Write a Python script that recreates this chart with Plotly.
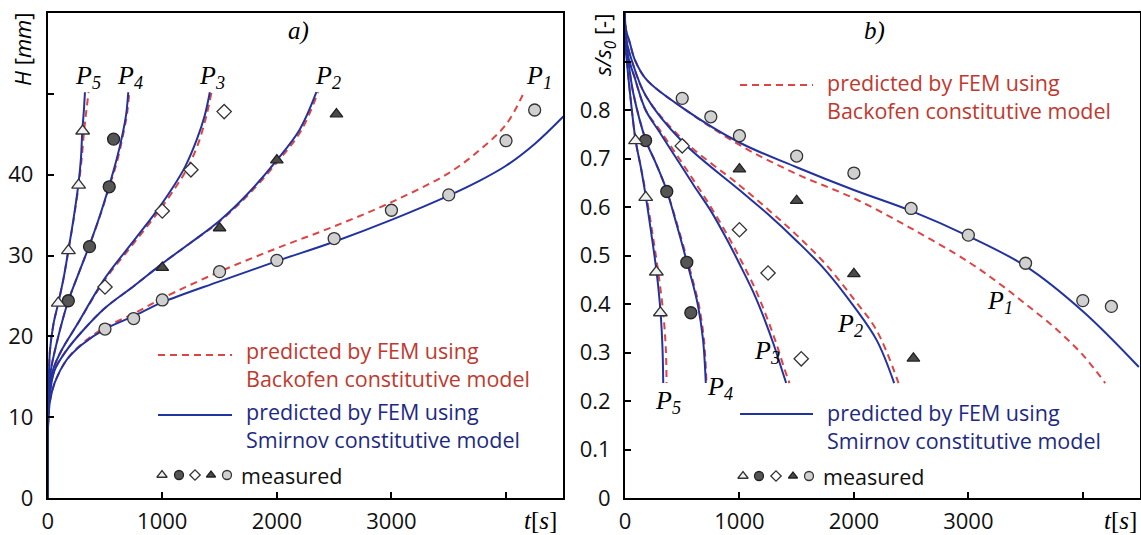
import plotly.graph_objects as go

# ---------------- DATA ----------------
# Panel a) : H [mm] vs t [s]
aP1_smir_t = [0, 0, 5, 20, 60, 166, 300, 500, 750, 1000, 1500, 2000, 2500, 3000, 3500, 3750, 4000, 4250, 4500]
aP1_smir_H = [0, 6, 9.5, 12, 14.2, 17.1, 19.0, 20.9, 22.5, 24.2, 26.8, 29.3, 31.7, 34.4, 37.4, 39.1, 41.1, 43.8, 47.2]
aP1_back_t = [0, 0, 5, 20, 60, 166, 300, 500, 750, 1000, 1500, 2000, 2500, 3000, 3500, 3765, 4000, 4160]
aP1_back_H = [0, 6, 9.5, 12, 14.2, 17.1, 19.1, 21.1, 22.8, 24.7, 28.0, 30.9, 33.6, 36.6, 40.2, 43.0, 46.2, 50.3]

aP2_smir_t = [0, 0, 5, 20, 60, 166, 300, 500, 750, 1000, 1250, 1500, 1750, 2000, 2200, 2345]
aP2_smir_H = [0, 6, 10, 13, 15.8, 18.3, 20.6, 23.5, 26.2, 29.0, 31.6, 34.3, 37.7, 41.8, 45.6, 50.2]
aP2_back_t = [0, 0, 5, 20, 60, 166, 300, 500, 750, 1000, 1250, 1500, 1750, 2000, 2210, 2360]
aP2_back_H = [0, 6, 10, 13, 15.8, 18.3, 20.6, 23.5, 26.2, 29.0, 31.6, 34.2, 37.5, 41.5, 45.4, 50.2]

aP3_smir_t = [0, 0, 4, 15, 50, 122, 250, 500, 750, 950, 1100, 1200, 1300, 1370, 1415]
aP3_smir_H = [0, 6, 10, 13.5, 16, 18.3, 21.3, 27.2, 31.8, 35.5, 38.6, 41.0, 44.3, 47.3, 50.2]
aP3_back_t = [0, 0, 4, 15, 50, 122, 250, 500, 750, 960, 1110, 1215, 1315, 1385, 1430]
aP3_back_H = [0, 6, 10, 13.5, 16, 18.3, 21.3, 27.0, 31.5, 35.3, 38.3, 40.7, 43.9, 47.3, 50.2]

aP4_smir_t = [0, 0, 3, 10, 30, 64, 120, 180, 270, 360, 450, 534, 600, 650, 685, 703]
aP4_smir_H = [0, 6, 10, 13, 16, 18.3, 21.5, 24.4, 27.8, 31.1, 34.7, 38.5, 41.8, 44.8, 47.5, 50.2]
aP4_back_t = [0, 0, 3, 10, 30, 64, 120, 180, 270, 360, 452, 538, 605, 656, 692, 712]
aP4_back_H = [0, 6, 10, 13, 16, 18.3, 21.5, 24.4, 27.8, 31.1, 34.7, 38.5, 41.6, 44.8, 47.5, 50.2]

aP5_smir_t = [0, 0, 2, 6, 12, 20, 50, 92, 140, 180, 225, 267, 290, 302, 315, 325]
aP5_smir_H = [0, 6, 10, 13.5, 16, 18.3, 21.5, 24.1, 27.3, 30.6, 34.5, 38.7, 42.0, 45.4, 47.8, 50.2]
aP5_back_t = [0, 0, 2, 6, 12, 20, 50, 92, 140, 180, 228, 272, 298, 318, 338, 357]
aP5_back_H = [0, 6, 10, 13.5, 16, 18.3, 21.5, 24.1, 27.3, 30.6, 34.6, 38.9, 42.2, 45.5, 48.0, 50.2]

# measured, panel a)
aP1_meas_t = [500, 750, 1000, 1500, 2000, 2500, 3000, 3500, 4000, 4250]
aP1_meas_H = [20.9, 22.2, 24.5, 28.0, 29.4, 32.1, 35.6, 37.5, 44.2, 48.0]
aP2_meas_t = [1000, 1500, 2000, 2520]
aP2_meas_H = [28.5, 33.4, 41.8, 47.5]
aP3_meas_t = [500, 1000, 1250, 1540]
aP3_meas_H = [26.1, 35.5, 40.6, 47.8]
aP4_meas_t = [180, 365, 537, 575]
aP4_meas_H = [24.4, 31.1, 38.5, 44.4]
aP5_meas_t = [92, 181, 270, 305]
aP5_meas_H = [24.1, 30.6, 38.7, 45.4]

# Panel b) : s/s0 vs t [s]
bP1_smir_t = [0, 5, 44, 87, 190, 500, 1000, 1500, 2000, 2500, 3000, 3500, 4000, 4490]
bP1_smir_s = [1.0, 0.97, 0.937, 0.903, 0.862, 0.805, 0.733, 0.682, 0.635, 0.592, 0.540, 0.478, 0.385, 0.27]
bP1_back_t = [0, 5, 44, 87, 190, 500, 1000, 1500, 2000, 2500, 3000, 3266, 3500, 3760, 4000, 4196]
bP1_back_s = [1.0, 0.97, 0.937, 0.903, 0.862, 0.805, 0.728, 0.668, 0.618, 0.556, 0.487, 0.443, 0.40, 0.35, 0.295, 0.237]

bP2_smir_t = [0, 3, 20, 58, 180, 500, 1000, 1250, 1500, 1750, 2000, 2200, 2352]
bP2_smir_s = [1.0, 0.965, 0.935, 0.903, 0.83, 0.735, 0.635, 0.585, 0.53, 0.47, 0.395, 0.325, 0.237]
bP2_back_t = [0, 3, 20, 58, 180, 500, 1000, 1250, 1500, 1750, 2000, 2200, 2390]
bP2_back_s = [1.0, 0.965, 0.935, 0.903, 0.83, 0.74, 0.645, 0.595, 0.542, 0.483, 0.41, 0.345, 0.237]

bP3_smir_t = [0, 2, 12, 35, 80, 180, 300, 450, 600, 750, 886, 1002, 1120, 1220, 1300, 1370, 1408]
bP3_smir_s = [1.0, 0.965, 0.935, 0.903, 0.87, 0.80, 0.755, 0.70, 0.645, 0.592, 0.535, 0.482, 0.425, 0.368, 0.316, 0.265, 0.237]
bP3_back_t = [0, 2, 12, 35, 80, 180, 300, 450, 600, 750, 900, 1020, 1140, 1240, 1320, 1395, 1437]
bP3_back_s = [1.0, 0.965, 0.935, 0.903, 0.87, 0.80, 0.76, 0.708, 0.655, 0.60, 0.54, 0.487, 0.43, 0.372, 0.32, 0.265, 0.237]

bP4_smir_t = [0, 2, 8, 29, 73, 183, 270, 363, 450, 537, 600, 639, 682, 706]
bP4_smir_s = [1.0, 0.96, 0.93, 0.90, 0.834, 0.737, 0.69, 0.635, 0.565, 0.49, 0.435, 0.395, 0.326, 0.237]
bP4_back_t = [0, 2, 8, 29, 73, 183, 270, 363, 455, 545, 608, 648, 690, 712]
bP4_back_s = [1.0, 0.96, 0.93, 0.90, 0.834, 0.737, 0.69, 0.635, 0.565, 0.49, 0.435, 0.395, 0.326, 0.237]

bP5_smir_t = [0, 1, 5, 15, 44, 93, 140, 183, 230, 276, 311, 328, 334]
bP5_smir_s = [1.0, 0.96, 0.93, 0.903, 0.834, 0.737, 0.68, 0.62, 0.545, 0.466, 0.382, 0.306, 0.237]
bP5_back_t = [0, 1, 5, 15, 44, 93, 140, 185, 240, 290, 334, 357, 363]
bP5_back_s = [1.0, 0.96, 0.93, 0.903, 0.834, 0.737, 0.68, 0.625, 0.545, 0.466, 0.382, 0.306, 0.237]

# measured, panel b)
bP1_meas_t = [500, 750, 1000, 1500, 2000, 2500, 3000, 3500, 4000, 4250]
bP1_meas_s = [0.824, 0.786, 0.747, 0.705, 0.670, 0.597, 0.542, 0.484, 0.407, 0.395]
bP2_meas_t = [1000, 1500, 2000, 2520]
bP2_meas_s = [0.678, 0.613, 0.462, 0.288]
bP3_meas_t = [500, 1000, 1250, 1540]
bP3_meas_s = [0.726, 0.553, 0.464, 0.287]
bP4_meas_t = [180, 365, 540, 575]
bP4_meas_s = [0.737, 0.632, 0.486, 0.382]
bP5_meas_t = [92, 181, 274, 309]
bP5_meas_s = [0.737, 0.620, 0.466, 0.382]

x_tickvals = [0, 1000, 2000, 3000, 4000]
x_ticktext = ["0", "1000", "2000", "3000", " "]
a_tickvals = [0, 10, 20, 30, 40, 50]
a_ticktext = ["0", "10", "20", "30", "40", " "]
b_tickvals = [0, 0.1, 0.2, 0.3, 0.4, 0.5, 0.6, 0.7, 0.8, 0.9]
b_ticktext = ["0", "0.1", "0.2", "0.3", "0.4", "0.5", "0.6", "0.7", "0.8", " "]

legend_back = ["predicted by FEM using", "Backofen constitutive model"]
legend_smir = ["predicted by FEM using", "Smirnov constitutive model"]
legend_meas = "measured"

# ---------------- STYLE / GEOMETRY ----------------
W, Hh = 1141, 535
BLUE = "#2233a0"
RED = "#dd4444"
RED_TXT = "#c0392f"
BLUE_TXT = "#1e2a80"
LW = 2

A_X0, A_X1 = 47.7, 563.3
B_X0, B_X1 = 625.0, 1140.0
Y_TOP, Y_BOT = 13.0, 498.0
T_MAX = 4500
A_YMAX = 60
B_YMAX = 1.0

def px_x(p):
    return p / W

def px_y(p):
    return 1 - p / Hh

def a_data(px, py):
    return ((px - A_X0) / (A_X1 - A_X0) * T_MAX, (Y_BOT - py) / (Y_BOT - Y_TOP) * A_YMAX)

def b_data(px, py):
    return ((px - B_X0) / (B_X1 - B_X0) * T_MAX, (Y_BOT - py) / (Y_BOT - Y_TOP) * B_YMAX)

marker_styles = {
    "P1": dict(symbol="circle", size=12, color="#d0d0d0", line=dict(color="#333333", width=1.3)),
    "P2": dict(symbol="triangle-up", size=11, color="#4a4a4a", line=dict(color="#222222", width=1.3)),
    "P3": dict(symbol="diamond", size=11, color="#ffffff", line=dict(color="#333333", width=1.3)),
    "P4": dict(symbol="circle", size=12, color="#555555", line=dict(color="#222222", width=1.3)),
    "P5": dict(symbol="triangle-up", size=12, color="#f2f2f2", line=dict(color="#333333", width=1.3)),
}

fig = go.Figure()

def line(x, y, xa, ya, kind):
    if kind == "smir":
        ln = dict(color=BLUE, width=LW, shape="spline", smoothing=1.0)
    else:
        ln = dict(color=RED, width=LW, dash="7px,5px", shape="spline", smoothing=1.0)
    fig.add_trace(go.Scatter(x=x, y=y, mode="lines", line=ln, xaxis=xa, yaxis=ya,
                             showlegend=False, hoverinfo="skip"))

def meas(x, y, xa, ya, key, size_delta=0):
    st = dict(marker_styles[key])
    st["size"] = st["size"] + size_delta
    fig.add_trace(go.Scatter(x=x, y=y, mode="markers", marker=st, cliponaxis=False,
                             xaxis=xa, yaxis=ya, showlegend=False, hoverinfo="skip"))

for t, h, k in [(aP1_back_t, aP1_back_H, "back"), (aP2_back_t, aP2_back_H, "back"),
                (aP3_back_t, aP3_back_H, "back"), (aP4_back_t, aP4_back_H, "back"),
                (aP5_back_t, aP5_back_H, "back"),
                (aP1_smir_t, aP1_smir_H, "smir"), (aP2_smir_t, aP2_smir_H, "smir"),
                (aP3_smir_t, aP3_smir_H, "smir"), (aP4_smir_t, aP4_smir_H, "smir"),
                (aP5_smir_t, aP5_smir_H, "smir")]:
    line(t, h, "x", "y", k)
for t, h, key in [(aP1_meas_t, aP1_meas_H, "P1"), (aP2_meas_t, aP2_meas_H, "P2"),
                  (aP3_meas_t, aP3_meas_H, "P3"), (aP4_meas_t, aP4_meas_H, "P4"),
                  (aP5_meas_t, aP5_meas_H, "P5")]:
    meas(t, h, "x", "y", key)

for t, s, k in [(bP1_back_t, bP1_back_s, "back"), (bP2_back_t, bP2_back_s, "back"),
                (bP3_back_t, bP3_back_s, "back"), (bP4_back_t, bP4_back_s, "back"),
                (bP5_back_t, bP5_back_s, "back"),
                (bP1_smir_t, bP1_smir_s, "smir"), (bP2_smir_t, bP2_smir_s, "smir"),
                (bP3_smir_t, bP3_smir_s, "smir"), (bP4_smir_t, bP4_smir_s, "smir"),
                (bP5_smir_t, bP5_smir_s, "smir")]:
    line(t, s, "x2", "y2", k)
for t, s, key in [(bP1_meas_t, bP1_meas_s, "P1"), (bP2_meas_t, bP2_meas_s, "P2"),
                  (bP3_meas_t, bP3_meas_s, "P3"), (bP4_meas_t, bP4_meas_s, "P4"),
                  (bP5_meas_t, bP5_meas_s, "P5")]:
    meas(t, s, "x2", "y2", key)

# legend marker rows ("measured")
leg_keys = ["P5", "P4", "P3", "P2", "P1"]
for xs, yrow, conv, xa, ya in [([162, 179, 195, 211, 227], 475, a_data, "x", "y"),
                               ([743, 759, 776, 793, 809], 476, b_data, "x2", "y2")]:
    for xx, key in zip(xs, leg_keys):
        dx, dy = conv(xx, yrow)
        meas([dx], [dy], xa, ya, key, size_delta=-3)

# ---------------- LAYOUT ----------------
ydom = [px_y(Y_BOT), px_y(Y_TOP)]
axis_common = dict(showline=True, linecolor="black", linewidth=2, mirror=True,
                   ticks="inside", ticklen=6, tickwidth=1.5, tickcolor="black",
                   showgrid=False, zeroline=False, automargin=False,
                   tickfont=dict(family="Open Sans", size=22, color="#111111"))

fig.update_layout(
    width=W, height=Hh,
    margin=dict(l=0, r=0, t=0, b=0),
    paper_bgcolor="white", plot_bgcolor="white",
    xaxis=dict(domain=[px_x(A_X0), px_x(A_X1)], range=[0, T_MAX], anchor="y",
               tickvals=x_tickvals, ticktext=x_ticktext, ticklabelstandoff=3, **axis_common),
    yaxis=dict(domain=ydom, range=[0, A_YMAX], anchor="x",
               tickvals=a_tickvals, ticktext=a_ticktext, ticklabelstandoff=8, **axis_common),
    xaxis2=dict(domain=[px_x(B_X0), px_x(B_X1)], range=[0, T_MAX], anchor="y2",
                tickvals=x_tickvals, ticktext=x_ticktext, ticklabelstandoff=3, **axis_common),
    yaxis2=dict(domain=ydom, range=[0, B_YMAX], anchor="x2",
                tickvals=b_tickvals, ticktext=b_ticktext, ticklabelstandoff=8, **axis_common),
    showlegend=False,
)

ann = []
def text(x, y, t, size, color="black", family="Open Sans", xanchor="center", angle=0):
    ann.append(dict(x=px_x(x), y=px_y(y), xref="paper", yref="paper", text=t, showarrow=False,
                    xanchor=xanchor, yanchor="middle", textangle=angle, borderpad=0,
                    align="left", font=dict(family=family, size=size, color=color)))

SERIF = "Liberation Serif"
LEG = 21.5
text(298, 31, "<i>a)</i>", 25, family=SERIF)
text(874, 31, "<i>b)</i>", 25, family=SERIF)
for x, y, n in [(88, 77, 5), (130, 77, 4), (212, 77, 3), (328, 77, 2), (539, 77, 1),
                (668, 402, 5), (720, 388, 4), (767, 352, 3), (850, 325, 2), (1000, 302, 1)]:
    text(x, y, f"<i>P</i><sub><i>{n}</i></sub>", 26, family=SERIF)
text(22, 50, "<i>H</i> [<i>mm</i>]", 22, angle=-90)
text(604, 45, "<i>s/s</i><sub><i>0</i></sub> [-]", 22, angle=-90)
text(540, 520, "<i>t</i>[<i>s</i>]", 25, family=SERIF)
text(1120, 520, "<i>t</i>[<i>s</i>]", 25, family=SERIF)
text(245, 364, "<br>".join(legend_back), LEG, RED_TXT, xanchor="left")
text(245, 425.5, "<br>".join(legend_smir), LEG, BLUE_TXT, xanchor="left")
text(240, 475, legend_meas, LEG, "#111111", xanchor="left")
text(826, 97, "<br>".join(legend_back), LEG, RED_TXT, xanchor="left")
text(826, 426, "<br>".join(legend_smir), LEG, BLUE_TXT, xanchor="left")
text(822, 476, legend_meas, LEG, "#111111", xanchor="left")
fig.update_layout(annotations=ann)

shapes = []
for x0, x1, y, kind in [(158, 232, 355, "back"), (158, 232, 415, "smir"),
                        (740, 813, 85, "back"), (740, 813, 414, "smir")]:
    if kind == "back":
        ln = dict(color=RED, width=LW, dash="7px,5px")
    else:
        ln = dict(color=BLUE, width=LW)
    shapes.append(dict(type="line", xref="paper", yref="paper",
                       x0=px_x(x0), x1=px_x(x1), y0=px_y(y), y1=px_y(y), line=ln))
fig.update_layout(shapes=shapes)

fig.write_html("out.html", config={"displayModeBar": False},
               post_script="document.body.style.margin='0px';document.body.style.overflow='hidden';")
